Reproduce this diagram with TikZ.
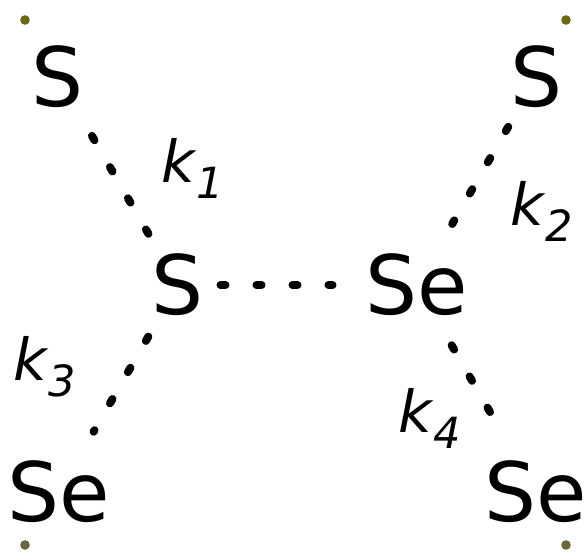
\documentclass[tikz,border=0pt]{standalone}
\usepackage{fontspec}
\setmainfont{DejaVu Sans}
\usepackage{xcolor}
\usepackage{tikz}
\usetikzlibrary{positioning}

\definecolor{cornertop}{RGB}{107,104,18}
\definecolor{cornerbot}{RGB}{104,102,58}

\newcommand{\klab}[1]{\textit{k}\raisebox{-8pt}{\fontsize{21.5}{22}\selectfont\itshape #1}}

\tikzset{
  atom/.style={inner sep=0pt,font=\fontsize{41}{45}\selectfont},
  rate/.style={inner sep=0pt,anchor=base west,font=\fontsize{29}{32}\selectfont},
  bond/.style={line width=4pt,line cap=round,dash pattern=on 2.5pt off 15.5pt},
}

\begin{document}
\begin{tikzpicture}[x=0.5pt,y=-0.5pt]
  \useasboundingbox (0,0) rectangle (586,553);
  % corner marks
  \fill[cornertop] (25,20) circle (2.4pt);
  \fill[cornertop] (566,20) circle (2.4pt);
  \fill[cornerbot] (25,545) circle (2.4pt);
  \fill[cornerbot] (566,545) circle (2.4pt);
  % atoms
  \node[atom] (sTL) at (58,77) {S};
  \node[atom] (sTR) at (537,77) {S};
  \node[atom] (sM) at (178,285) {S};
  \node[atom] (seM) at (417,285) {Se};
  \node[atom] (seBL) at (59,492) {Se};
  \node[atom] (seBR) at (536,492) {Se};
  % contacts
  \draw[bond,shorten <=34pt,shorten >=29pt] (sTL.center) -- (sM.center);
  \draw[bond,shorten <=28.75pt,shorten >=35.25pt] (sTR.center) -- (seM.center);
  \draw[bond,shorten <=29.75pt,shorten >=34.75pt] (sM.center) -- (seBL.center);
  \draw[bond,shorten <=34.75pt,shorten >=46pt] (seM.center) -- (seBR.center);
  \draw[bond,shorten <=21.25pt,shorten >=42.25pt] (sM.center) -- (seM.center);
  % rate labels
  \node[rate] (k1) at (161,182) {\klab{1}};
  \node[rate] (k2) at (510,225) {\klab{2}};
  \node[rate] (k3) at (13,380) {\klab{3}};
  \node[rate] (k4) at (398,432) {\klab{4}};
\end{tikzpicture}
\end{document}
